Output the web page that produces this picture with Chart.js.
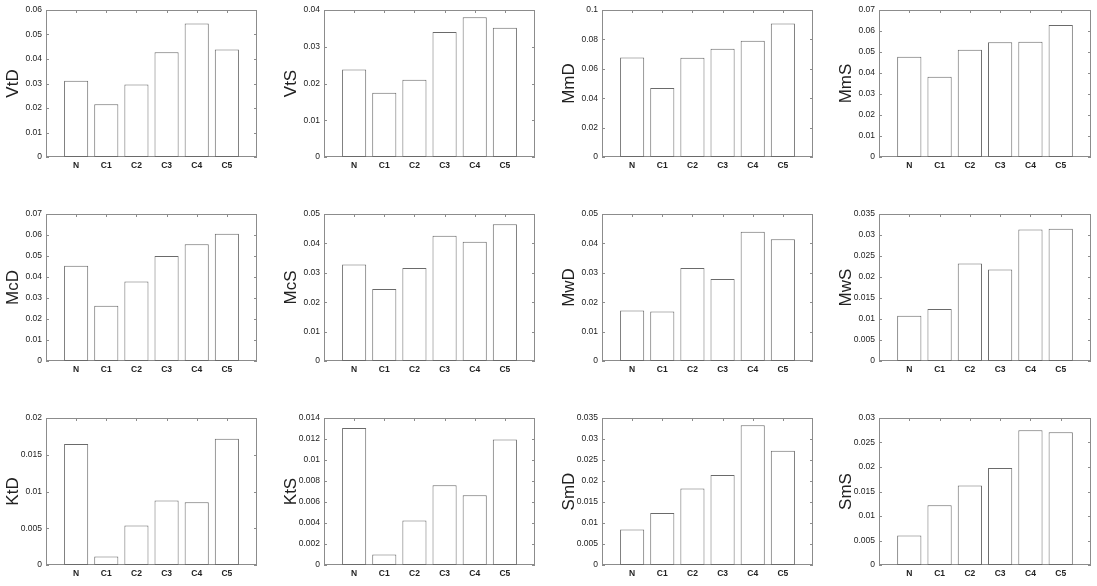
<!DOCTYPE html>
<html>
<head>
<meta charset="utf-8">
<script src="https://cdn.jsdelivr.net/npm/chart.js@4/dist/chart.umd.min.js"></script>
<style>
  html, body { margin:0; padding:0; background:#fff; overflow:hidden; }
  #wrap { position:relative; width:1097px; height:586px; }
  canvas { position:absolute; }
</style>
</head>
<body>
<div id="wrap"></div>
<script>
const categories = ['N', 'C1', 'C2', 'C3', 'C4', 'C5'];

// panel values
const vtD = [0.0311, 0.0215, 0.0296, 0.0428, 0.0545, 0.0439];
const vtS = [0.0238, 0.0175, 0.0210, 0.0340, 0.0380, 0.0352];
const mmD = [0.0677, 0.0470, 0.0675, 0.0736, 0.0791, 0.0909];
const mmS = [0.0477, 0.0382, 0.0511, 0.0547, 0.0549, 0.0628];
const mcD = [0.0454, 0.0263, 0.0379, 0.0500, 0.0556, 0.0606];
const mcS = [0.0328, 0.0245, 0.0316, 0.0426, 0.0406, 0.0465];
const mwD = [0.0172, 0.0168, 0.0316, 0.0279, 0.0440, 0.0414];
const mwS = [0.0108, 0.0124, 0.0232, 0.0218, 0.0313, 0.0315];
const ktD = [0.01645, 0.00114, 0.00536, 0.00877, 0.00855, 0.01718];
const ktS = [0.01305, 0.00099, 0.00423, 0.0076, 0.00665, 0.01196];
const smD = [0.00843, 0.0124, 0.0182, 0.0214, 0.03325, 0.0272];
const smS = [0.0060, 0.0122, 0.0162, 0.0198, 0.0275, 0.0271];

const panelNames = ['VtD', 'VtS', 'MmD', 'MmS', 'McD', 'McS', 'MwD', 'MwS', 'KtD', 'KtS', 'SmD', 'SmS'];
const panelValues = [vtD, vtS, mmD, mmS, mcD, mcS, mwD, mwS, ktD, ktS, smD, smS];
const yMax  = [0.06, 0.04, 0.1, 0.07, 0.07, 0.05, 0.05, 0.035, 0.02, 0.014, 0.035, 0.03];
const yStep = [0.01, 0.01, 0.02, 0.01, 0.01, 0.01, 0.01, 0.005, 0.005, 0.002, 0.005, 0.005];

// layout of the plot boxes
const colLeft = [46, 324, 602, 879];
const colWidth = [211, 211, 211, 212];
const rowTop = [10, 214, 418];
const plotH = 147;
const padL = 46, padT = 10, padR = 5, padB = 20;

const FONT = "'Liberation Sans', Arial, sans-serif";

// matlab style frame with inward ticks
const boxTicks = {
  id: 'boxTicks',
  beforeDatasetsDraw(chart) {
    const {ctx, chartArea: a, scales: {x, y}} = chart;
    ctx.save();
    ctx.strokeStyle = '#8c8c8c';
    ctx.lineWidth = 1;
    ctx.strokeRect(a.left + 0.5, a.top + 0.5, a.right - a.left - 1, a.bottom - a.top - 1);
    ctx.beginPath();
    y.ticks.forEach(t => {
      const py = Math.round(y.getPixelForValue(t.value)) + 0.5;
      ctx.moveTo(a.left, py); ctx.lineTo(a.left + 3, py);
      ctx.moveTo(a.right, py); ctx.lineTo(a.right - 3, py);
    });
    categories.forEach((c, i) => {
      const px = Math.round(x.getPixelForValue(i + 1)) + 0.5;
      ctx.moveTo(px, a.top); ctx.lineTo(px, a.top + 3);
      ctx.moveTo(px, a.bottom); ctx.lineTo(px, a.bottom - 3);
    });
    ctx.stroke();
    ctx.restore();
  }
};

const wrap = document.getElementById('wrap');

panelNames.forEach((name, k) => {
  const col = k % 4, row = Math.floor(k / 4);
  const cv = document.createElement('canvas');
  const w = padL + colWidth[col] + padR;
  const h = padT + plotH + padB;
  cv.width = w; cv.height = h;
  cv.style.left = (colLeft[col] - padL) + 'px';
  cv.style.top = (rowTop[row] - padT) + 'px';
  cv.style.width = w + 'px'; cv.style.height = h + 'px';
  wrap.appendChild(cv);

  new Chart(cv.getContext('2d'), {
    type: 'bar',
    data: {
      labels: ['', ...categories, ''],
      datasets: [{
        data: [null, ...panelValues[k], null],
        backgroundColor: '#ffffff',
        borderColor: '#6a6a6a',
        borderWidth: 1,
        borderSkipped: false,
        barPercentage: 0.8,
        categoryPercentage: 1
      }]
    },
    options: {
      responsive: false,
      devicePixelRatio: 1,
      animation: false,
      layout: { padding: { left: 0, top: padT, right: padR, bottom: 0 } },
      plugins: { legend: { display: false }, tooltip: { enabled: false } },
      scales: {
        x: {
          offset: false,
          grid: { display: false, drawTicks: false },
          border: { display: false },
          ticks: {
            autoSkip: false, maxRotation: 0, padding: 4,
            color: '#222', font: { family: FONT, size: 8.5, weight: 'bold' }
          },
          afterFit(s) { s.height = padB; }
        },
        y: {
          min: 0, max: yMax[k],
          grid: { display: false, drawTicks: false },
          border: { display: false },
          ticks: {
            stepSize: yStep[k], padding: 4,
            color: '#222', font: { family: FONT, size: 8.5 },
            callback: v => String(+v.toFixed(6))
          },
          title: {
            display: true, text: name, color: '#222', padding: 3,
            font: { family: FONT, size: 17 }
          },
          afterFit(s) { s.width = padL; }
        }
      }
    },
    plugins: [boxTicks]
  });
});
</script>
</body>
</html>
